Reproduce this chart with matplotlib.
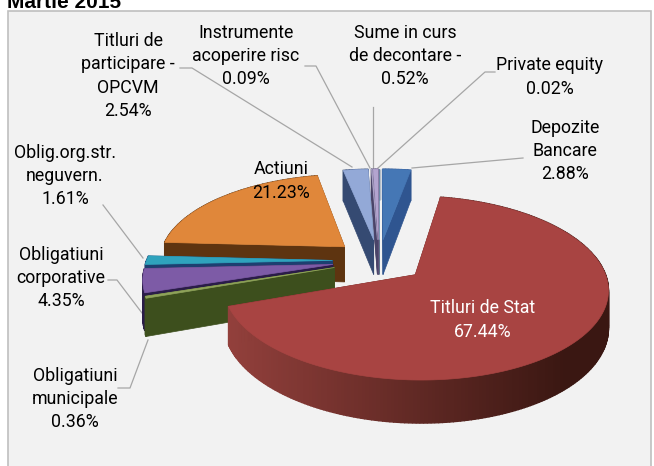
import numpy as np
import matplotlib
matplotlib.use('Agg')
import matplotlib.pyplot as plt
from matplotlib.patches import Rectangle

plt.rcParams['font.family'] = ['Roboto', 'Liberation Sans', 'DejaVu Sans']

# clockwise from 12 o'clock
names = ['Depozite\nBancare', 'Titluri de Stat', 'Obligatiuni\nmunicipale', 'Obligatiuni\ncorporative',
         'Oblig.org.str.\nneguvern.', 'Actiuni', 'Titluri de\nparticipare -\nOPCVM',
         'Instrumente\nacoperire risc', 'Sume in curs\nde decontare -', 'Private equity']
values = [2.88, 67.44, 0.36, 4.35, 1.61, 21.23, 2.54, 0.09, 0.52, 0.02]

top_colors = ['#4577b5', '#a84442', '#8fa35a', '#7d5ba6', '#2fa3bd', '#e0873a',
              '#93a9d7', '#a9a0c4', '#b3a4cf', '#8fb0d0']
wall_colors = ['#2f5590', '#5a2420', '#3d4f1d', '#2a1c48', '#1d3f70', '#5e3410',
               '#354a72', '#4a4468', '#5b5078', '#47607a']

# pie geometry in pixels
cx, cy = 379, 260.5
rx, ry = 186, 86
persp = 0.141
thick = 36
explode = 0.25


def project(s, c, drop=0.0):
    # s = sideways, c = towards viewer, both in radius units
    w = 1 - persp * c
    return cx + rx * s / w, cy + (ry * c + drop * thick) / w


def shade(col1, col2, t):
    a = np.array(matplotlib.colors.to_rgb(col1))
    b = np.array(matplotlib.colors.to_rgb(col2))
    return a + (b - a) * t


fig = plt.figure(figsize=(6.54, 4.66), dpi=100)
ax = fig.add_axes([0, 0, 1, 1])
ax.set_xlim(0, 654)
ax.set_ylim(466, 0)
ax.axis('off')

ax.add_patch(Rectangle((8, 11), 643, 461, fc='#f2f2f2', ec='#bfbfbf', lw=1.2, zorder=0))

edges = np.cumsum([0] + values) / sum(values) * 2 * np.pi
order = [0, 9, 8, 7, 6, 5, 4, 3, 2, 1]

z = 2
for i in order:
    a0, a1 = edges[i], edges[i + 1]
    mid = (a0 + a1) / 2
    ox, oc = explode * np.sin(mid), -explode * np.cos(mid)
    th = np.linspace(a0, a1, max(int((a1 - a0) * 60), 3))
    ss = ox + np.sin(th)
    cc = oc - np.cos(th)
    tx, ty = project(ss, cc)
    bx, by = project(ss, cc, 1)
    ax0, ay0 = project(ox, oc)
    ax1, ay1 = project(ox, oc, 1)

    # radial walls, the hidden one first
    walls = sorted([0, -1], key=lambda k: cc[k])
    for k in walls:
        ax.fill([ax0, tx[k], bx[k], ax1], [ay0, ty[k], by[k], ay1],
                color=wall_colors[i], lw=0.5, zorder=z)
        z += 1

    # outer wall in small strips so it can darken to the right
    for j in range(len(th) - 1):
        t = np.clip((tx[j] - 226) / 340, 0, 1)
        col = wall_colors[i]
        if i == 1:
            col = shade('#93403c', '#3a1712', t)
        ax.fill([tx[j], tx[j + 1], bx[j + 1], bx[j]], [ty[j], ty[j + 1], by[j + 1], by[j]],
                color=col, lw=1.0, zorder=z)
    z += 1

    ax.fill(np.r_[ax0, tx], np.r_[ay0, ty], color=top_colors[i], lw=0.5, zorder=z)
    z += 1

# leader lines
leaders = [([523, 412], [158, 168]),
           ([118, 130, 148], [388, 388, 340]),
           ([108, 117, 142], [280, 280, 313]),
           ([103, 143], [205, 258]),
           ([180, 192, 352], [68, 68, 167]),
           ([305, 316, 370], [66, 66, 168]),
           ([373, 373], [107, 168]),
           ([495, 485, 378], [72, 72, 168])]
for xs, ys in leaders:
    ax.plot(xs, ys, color='#a6a6a6', lw=0.9, zorder=1)

# label centres
label_x = [565, 483, 75, 61, 65, 281, 128, 246, 405, 550]
label_y = [151, 320, 399, 278, 176, 181, 76, 56, 56, 77]
label_c = ['#000000'] * 10
label_c[1] = '#ffffff'
for i in range(len(names)):
    ax.text(label_x[i], label_y[i], f'{names[i]}\n{values[i]:.2f}%', ha='center', va='center',
            fontsize=12.8, color=label_c[i], linespacing=1.38, zorder=100)

ax.text(7, 8, 'Martie 2015', fontsize=15, fontweight='bold', family=['Liberation Sans'],
        ha='left', va='baseline', zorder=100)

fig.savefig('out.png', dpi=100)
